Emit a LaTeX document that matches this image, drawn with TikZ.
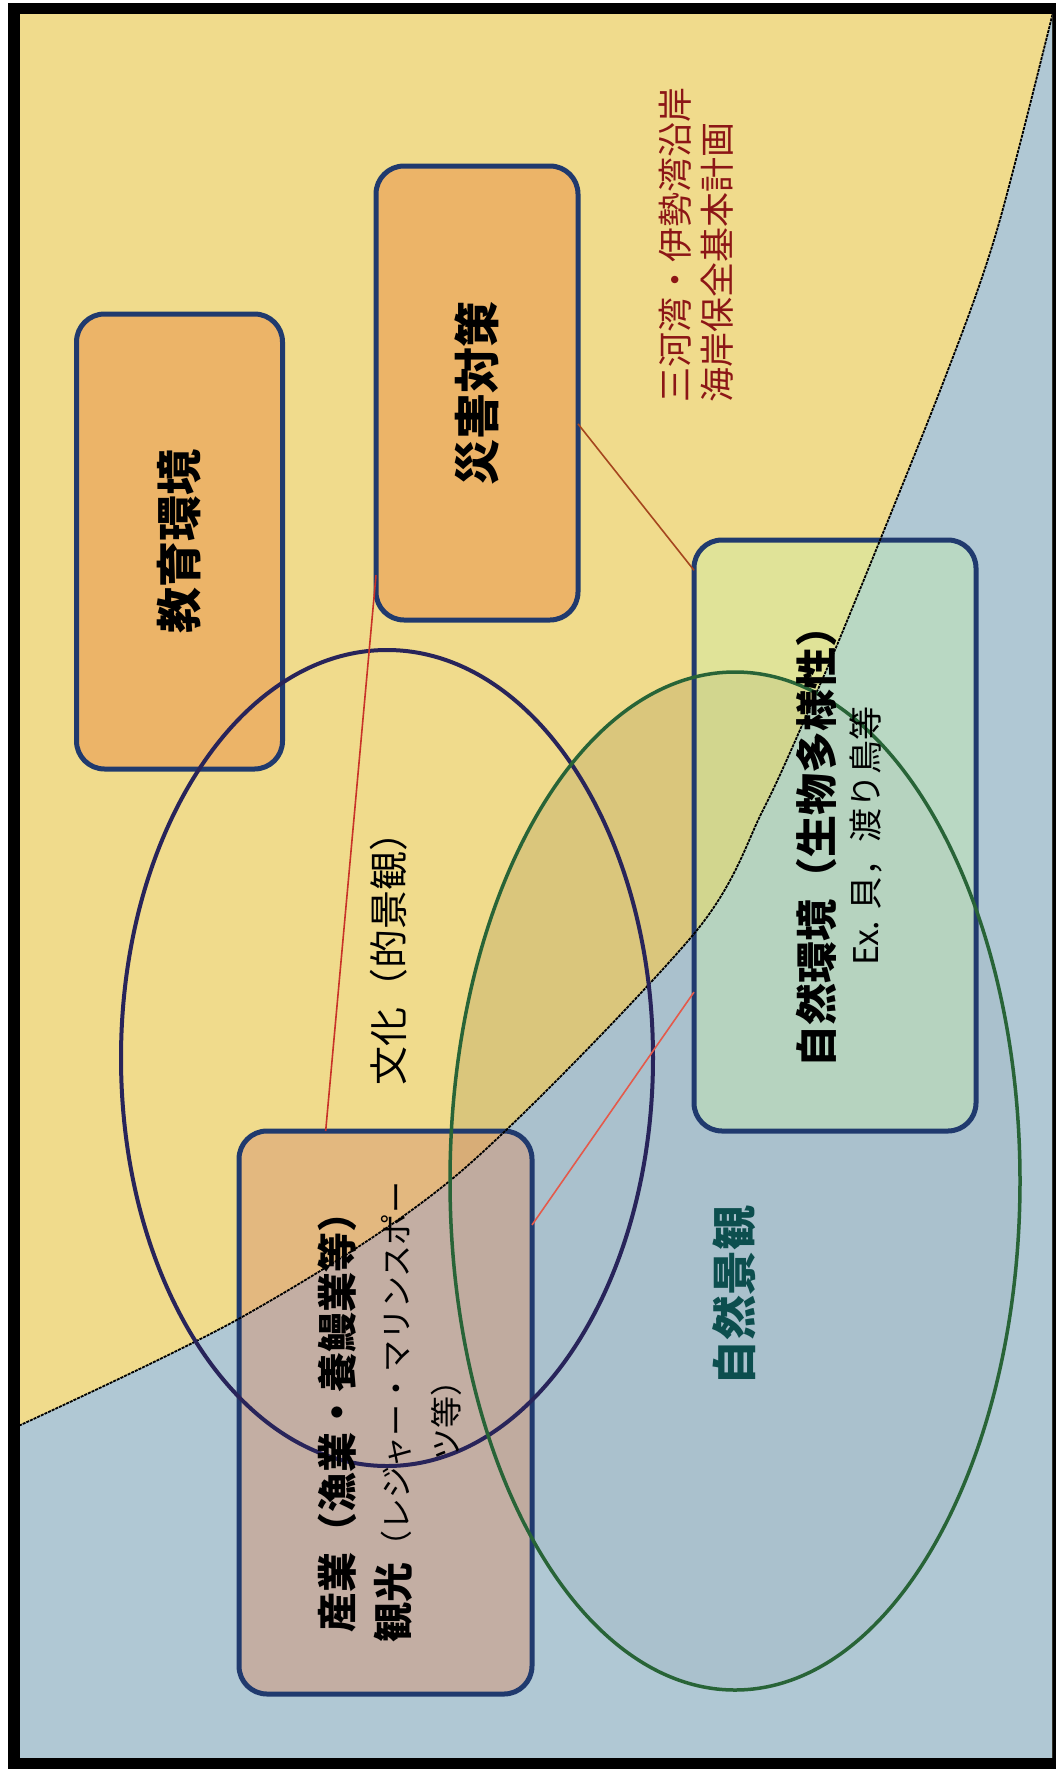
\documentclass[tikz,border=0pt]{standalone}
\usepackage{fontspec}
\setmainfont{Noto Sans CJK JP}
\usetikzlibrary{shapes.geometric}
\definecolor{bgyellow}{RGB}{240,219,140}
\definecolor{bgblue}{RGB}{176,200,212}
\definecolor{boxorange}{RGB}{236,180,104}
\definecolor{boxborder}{RGB}{32,58,110}
\definecolor{navyline}{RGB}{40,36,90}
\definecolor{greenline}{RGB}{40,100,55}
\definecolor{darkred}{RGB}{140,22,22}
\definecolor{tealtext}{RGB}{12,78,78}
\definecolor{linkbrown}{RGB}{165,70,30}
\definecolor{linkred}{RGB}{200,50,40}
\definecolor{linklight}{RGB}{228,90,75}
\definecolor{shizenfill}{RGB}{200,240,170}
\definecolor{sangyofill}{RGB}{215,150,115}
\definecolor{tanfill}{RGB}{120,100,40}
\begin{document}
\begin{tikzpicture}[x=1pt,y=-1pt,
  roundbox/.style={rectangle, draw=boxborder, line width=5pt, rounded corners=28pt, inner sep=0pt, outer sep=0pt},
  ringshape/.style={ellipse, inner sep=0pt, outer sep=0pt},
  vlabel/.style={rotate=90, inner sep=0pt, align=center},
  connector/.style={line width=1.6pt}]
\useasboundingbox (0,0) rectangle (1056,1769);
\fill[white] (0,0) rectangle (1056,1769);
\fill[black] (8,3) rectangle (1056,1769);
\begin{scope}
\clip (20,15) rectangle (1052,1757);
\fill[bgyellow] (0,0) rectangle (1056,1769);
\fill[tanfill, fill opacity=0.11] (735,1181) ellipse [x radius=285pt, y radius=509pt];
\fill[bgblue] plot[smooth] coordinates {(-10,1439) (242,1317) (458,1174) (693,935) (763,810) (807,714) (847,621) (943,383) (997,230) (1058,-8)} -- (1070,-8) -- (1070,1780) -- (-10,1780) -- cycle;
\fill[black, fill opacity=0.03] (735,1181) ellipse [x radius=285pt, y radius=509pt];
\node[roundbox, fill=boxorange, minimum width=206pt, minimum height=455pt] (kyoiku) at (179.5,541.5) {};
\node[roundbox, fill=boxorange, minimum width=202pt, minimum height=454pt] (saigai) at (477,393) {};
\node[roundbox, fill=shizenfill, fill opacity=0.4, minimum width=282pt, minimum height=591pt] (shizen) at (835,835.5) {};
\node[roundbox, fill=sangyofill, fill opacity=0.5, minimum width=293pt, minimum height=563pt] (sangyo) at (385.5,1412.5) {};
\draw[black, line width=1.8pt, dash pattern=on 3pt off 1pt] plot[smooth] coordinates {(-10,1439) (242,1317) (458,1174) (693,935) (763,810) (807,714) (847,621) (943,383) (997,230) (1058,-8)};
\node[ringshape, draw=navyline, line width=4pt, minimum width=532pt, minimum height=816pt] (bunkaring) at (387,1058) {};
\node[ringshape, draw=greenline, line width=3.5pt, minimum width=570pt, minimum height=1018pt] (keikanring) at (735,1181) {};
\end{scope}
\draw[connector, linkbrown] (saigai.-17.6) -- (shizen.118.3);
\draw[connector, linkred] (saigai.-119) -- (sangyo.102.5);
\draw[connector, linklight] (shizen.-132.2) -- (sangyo.52.4);
\node[vlabel, font=\bfseries\fontsize{46}{55}\selectfont] (kyoikutext) at (kyoiku.center) {教育環境};
\node[vlabel, font=\bfseries\fontsize{46}{55}\selectfont] (saigaitext) at (saigai.center) {災害対策};
\node[vlabel, font=\fontsize{39}{47}\selectfont] (bunkatext) at (389,949) {文化（的景観）};
\node[vlabel, text=tealtext, font=\bfseries\fontsize{45}{54}\selectfont] (keikantext) at (734,1295) {自然景観};
\node[vlabel, align=left, anchor=west, text=darkred, font=\fontsize{35}{42}\selectfont] (kaigantext) at (696,403) {三河湾・伊勢湾沿岸\\海岸保全基本計画};
\node[vlabel, font=\fontsize{42}{46}\selectfont] (shizentext) at (839,836) {\textbf{自然環境（生物多様性）}\\{\fontsize{34}{46}\selectfont Ex. 貝，渡り鳥等}};
\node[vlabel, font=\fontsize{40}{56}\selectfont] (sangyotext) at (390,1412) {\textbf{産業（漁業・養鰻業等）}\\\textbf{観光}{\fontsize{32}{40}\selectfont（レジャー・マリンスポー}\\[-6pt]{\fontsize{32}{40}\selectfont ツ等）}};
\end{tikzpicture}
\end{document}
